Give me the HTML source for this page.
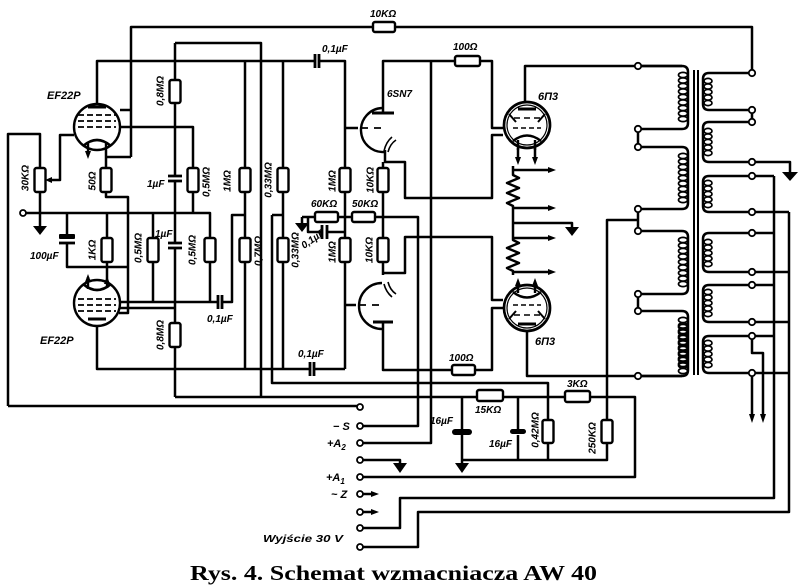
<!DOCTYPE html>
<html><head><meta charset="utf-8"><style>
html,body{margin:0;padding:0;background:#fff;}
svg{display:block}
text{font-family:"Liberation Sans",sans-serif;font-style:italic;font-weight:bold;font-size:10px;fill:#000;stroke:none}
.cap{font-family:"Liberation Serif",serif;font-style:normal;font-weight:bold;font-size:21px}
.lb{font-size:11px}
</style></head><body>
<svg width="800" height="586" viewBox="0 0 800 586" xmlns="http://www.w3.org/2000/svg">
<rect width="800" height="586" fill="#fff"/>
<g fill="none" stroke="#000" stroke-width="2.5" stroke-linejoin="round">
<path d="M131,157 V27 H752 V73"/>
<path d="M175,43 H261 V397"/>
<path d="M175,43 V176 M175,181 V243 M175,248 V397"/>
<path d="M97,104 V61 H315 M319,61 H345 V369"/>
<path d="M97,326 V369 H310 M314,369 H345"/>
<path d="M245,61 V369 M283,61 V369"/>
<path d="M272,215 H283 M272,215 V383 H548 V460"/>
<path d="M462,397 V429 M462,435 V464 M518,397 V429 M518,435 V460"/>
<path d="M462,460 H607 V220 H638"/>
<path d="M175,397 H635 V477 H363"/>
<path d="M8,406 H357 M8,406 V134 H40 V227"/>
<path d="M74,135 H60 V180 H50"/>
<path d="M106,150 V197 H128 V313 H119 M131,157 H106"/>
<path d="M120,110 H131 M120,127 H193 V213"/>
<path d="M26,213 H210 V302 M67,213 V236 M67,243 V267 H128 M107,213 V280 M153,213 V302"/>
<path d="M120,302 H218 M222,302 H232 V215 H245 M120,308 H175"/>
<path d="M345,128 H358 M345,305 H356"/>
<path d="M383,113 V61 H455 M480,61 H492 V128 H503"/>
<path d="M385,150 V162 H405 V198 H492 V135 H503 M383,162 V275"/>
<path d="M383,273 H405 V237 H492 V300 H503"/>
<path d="M383,322 V370 H452 M475,370 H492 V308 H503"/>
<path d="M302,217 H418 V426 H363 M302,217 V223 M308,217 V232 H322 M327,232 H345"/>
<path d="M431,61 V443 H363"/>
<path d="M363,460 H400 V464"/>
<path d="M525,104 V66 H682"/>
<path d="M527,331 V376 H682"/>
<path d="M518,148 V160 M535,148 V160"/>
<path d="M518,283 V294 M535,283 V294"/>
<path d="M513,166 V175 L519,178 L507,183 L519,188 L507,193 L519,198 L507,203 L513,206 V240 L519,243 L507,248 L519,253 L507,258 L519,263 L507,268 L513,271 V275"/>
<path d="M513,170 H548 M513,208 H548 M513,223 H572 V227 M513,238 H548 M513,272 H548"/>
<path d="M638,66 H682 Q688,66 688,72 V123 Q688,129 682,129 H638 V147 H682 Q688,147 688,153 V203 Q688,209 682,209 H638 V231 H682 Q688,231 688,237 V288 Q688,294 682,294 H638 V311 H682 Q688,311 688,317 V370 Q688,376 682,376 H638"/>
<path d="M694,70 V375 M698,70 V375" stroke-width="2"/>
<path d="M752,73 H709 Q703,73 703,79 V104 Q703,110 709,110 H752 V122 H709 Q703,122 703,128 V156 Q703,162 709,162 H790 V172"/>
<path d="M774,176 H709 Q703,176 703,182 V206 Q703,212 709,212 H789"/>
<path d="M774,233 H709 Q703,233 703,239 V266 Q703,272 709,272 H789"/>
<path d="M774,285 H709 Q703,285 703,291 V316 Q703,322 709,322 H789"/>
<path d="M774,336 H709 Q703,336 703,342 V367 Q703,373 709,373 H789"/>
<path d="M752,336 V353 H763 V416 M752,373 V416"/>
<path d="M774,176 V498 H400 V528 H363 M789,212 V512 H418 V547 H363"/>
<path d="M363,494 H372 M363,512 H372"/>
</g>
<g fill="none" stroke="#000" stroke-width="1.7">
<g id="pc1">
<ellipse cx="683" cy="75" rx="4.5" ry="2.6"/><ellipse cx="683" cy="80.5" rx="4.5" ry="2.6"/><ellipse cx="683" cy="86" rx="4.5" ry="2.6"/><ellipse cx="683" cy="91.5" rx="4.5" ry="2.6"/><ellipse cx="683" cy="97" rx="4.5" ry="2.6"/><ellipse cx="683" cy="102.5" rx="4.5" ry="2.6"/><ellipse cx="683" cy="108" rx="4.5" ry="2.6"/><ellipse cx="683" cy="113.5" rx="4.5" ry="2.6"/><ellipse cx="683" cy="119" rx="4.5" ry="2.6"/>
</g>
<use href="#pc1" transform="translate(0,81)"/>
<use href="#pc1" transform="translate(0,165)"/>
<use href="#pc1" transform="translate(0,245)"/>
<use href="#pc1" transform="translate(0,252)"/>
<g id="sc1">
<ellipse cx="708" cy="81" rx="4" ry="2.6"/><ellipse cx="708" cy="86.5" rx="4" ry="2.6"/><ellipse cx="708" cy="92" rx="4" ry="2.6"/><ellipse cx="708" cy="97.5" rx="4" ry="2.6"/><ellipse cx="708" cy="103" rx="4" ry="2.6"/>
</g>
<use href="#sc1" transform="translate(0,50)"/>
<use href="#sc1" transform="translate(0,102)"/>
<use href="#sc1" transform="translate(0,161)"/>
<use href="#sc1" transform="translate(0,211)"/>
<use href="#sc1" transform="translate(0,262)"/>
</g>
<g fill="none" stroke="#000" stroke-width="2.4">
<circle cx="97" cy="127" r="23" fill="#fff"/>
<path d="M88,107 H106" stroke-width="3"/>
<path d="M78,115 H116 M78,121 H116 M78,127 H116" stroke-dasharray="6,3" stroke-width="1.8"/>
<path d="M83,146 Q97,134 111,146" stroke-width="2.6"/>
<path d="M88,142 V154 M106,142 V150"/>
<circle cx="97" cy="303" r="23" fill="#fff"/>
<path d="M88,319 H106" stroke-width="3"/>
<path d="M78,299 H116 M78,305 H116 M78,311 H116" stroke-dasharray="6,3" stroke-width="1.8"/>
<path d="M83,284 Q97,296 111,284" stroke-width="2.6"/>
<path d="M88,277 V289 M107,280 V288"/>
<path d="M382,108 A22,22 0 0 0 384,152"/>
<path d="M372,113 H394" stroke-width="3"/>
<path d="M361,128 H368 M374,128 H381" stroke-width="1.8"/>
<path d="M384,151 Q386,142 392,137 M388,152 Q390,144 396,140" stroke-width="1.6"/>
<path d="M382,283 A23,23 0 0 0 382,329"/>
<path d="M373,322 H393" stroke-width="3"/>
<path d="M359,305 H366 M372,305 H379" stroke-width="1.8"/>
<path d="M384,284 Q386,292 392,297 M388,282 Q390,290 396,294" stroke-width="1.6"/>
<circle cx="527" cy="125" r="23" fill="#fff" stroke-width="2.7"/>
<circle cx="527" cy="125" r="20" stroke-width="1.2"/>
<path d="M518,109 H536" stroke-width="3"/>
<path d="M514,118 H520 M524,118 H530 M534,118 H540" stroke-width="1.6"/>
<path d="M509,114 L516,122 M545,114 L538,122" stroke-width="2"/>
<path d="M513,128 H541" stroke-dasharray="5,3" stroke-width="1.6"/>
<path d="M513,141 Q527,130 541,141" stroke-width="2.4"/>
<path d="M518,140 V150 M535,140 V150"/>
<circle cx="527" cy="308" r="23" fill="#fff" stroke-width="2.7"/>
<circle cx="527" cy="308" r="20" stroke-width="1.2"/>
<path d="M518,324 H536" stroke-width="3"/>
<path d="M514,315 H520 M524,315 H530 M534,315 H540" stroke-width="1.6"/>
<path d="M509,319 L516,311 M545,319 L538,311" stroke-width="2"/>
<path d="M513,305 H541" stroke-dasharray="5,3" stroke-width="1.6"/>
<path d="M513,292 Q527,303 541,292" stroke-width="2.4"/>
<path d="M518,293 V287 M535,293 V287"/>
</g>
<g fill="#fff" stroke="#000" stroke-width="2.4">
<rect x="373" y="22" width="22" height="10" rx="2"/>
<rect x="455" y="56" width="25" height="10" rx="2"/>
<rect x="169.5" y="80" width="11" height="23" rx="2"/>
<rect x="34.5" y="168" width="11" height="24" rx="2"/>
<rect x="100.5" y="168" width="11" height="24" rx="2"/>
<rect x="187.5" y="168" width="11" height="24" rx="2"/>
<rect x="239.5" y="168" width="11" height="24" rx="2"/>
<rect x="277.5" y="168" width="11" height="24" rx="2"/>
<rect x="339.5" y="168" width="11" height="24" rx="2"/>
<rect x="377.5" y="168" width="11" height="24" rx="2"/>
<rect x="315" y="212" width="23" height="10" rx="2"/>
<rect x="352" y="212" width="23" height="10" rx="2"/>
<rect x="101.5" y="238" width="11" height="24" rx="2"/>
<rect x="147.5" y="238" width="11" height="24" rx="2"/>
<rect x="204.5" y="238" width="11" height="24" rx="2"/>
<rect x="239.5" y="238" width="11" height="24" rx="2"/>
<rect x="277.5" y="238" width="11" height="24" rx="2"/>
<rect x="339.5" y="238" width="11" height="24" rx="2"/>
<rect x="377.5" y="238" width="11" height="24" rx="2"/>
<rect x="169.5" y="323" width="11" height="24" rx="2"/>
<rect x="452" y="365" width="23" height="10" rx="2"/>
<rect x="477" y="390" width="26" height="11" rx="2"/>
<rect x="565" y="391" width="25" height="11" rx="2"/>
<rect x="542.5" y="420" width="11" height="23" rx="2"/>
<rect x="601.5" y="420" width="11" height="23" rx="2"/>
</g>
<g stroke="#000" stroke-width="2.8" fill="none">
<path d="M315,54 V68 M319,54 V68"/>
<path d="M310,362 V376 M314,362 V376"/>
<path d="M218,295 V309 M222,295 V309"/>
<path d="M322,225 V239 M327,225 V239"/>
<path d="M168,176 H182 M168,181 H182"/>
<path d="M168,243 H182 M168,248 H182"/>
<path d="M59,243 H75"/>
</g>
<g fill="#000" stroke="none">
<rect x="59" y="234" width="16" height="5" rx="1"/>
<rect x="452" y="429" width="20" height="6" rx="3"/>
<rect x="510" y="429" width="16" height="5" rx="2.5"/>
<path d="M33,226 H47 L40,235 Z"/>
<path d="M295,223 H309 L302,232 Z"/>
<path d="M393,463 H407 L400,473 Z"/>
<path d="M455,463 H469 L462,473 Z"/>
<path d="M565,227 H579 L572,236 Z"/>
<path d="M782,172 H798 L790,181 Z"/>
<path d="M548,167 L556,170 L548,173 Z"/>
<path d="M548,205 L556,208 L548,211 Z"/>
<path d="M548,235 L556,238 L548,241 Z"/>
<path d="M548,269 L556,272 L548,275 Z"/>
<path d="M515,157 L518,165 L521,157 Z"/>
<path d="M532,157 L535,165 L538,157 Z"/>
<path d="M515,286 L518,278 L521,286 Z"/>
<path d="M532,286 L535,278 L538,286 Z"/>
<path d="M85,151 L88,159 L91,151 Z"/>
<path d="M85,282 L88,274 L91,282 Z"/>
<path d="M104,284 L107,276 L110,284 Z"/>
<path d="M749,414 L752,423 L755,414 Z"/>
<path d="M760,414 L763,423 L766,414 Z"/>
<path d="M371,491 L379,494 L371,497 Z"/>
<path d="M371,509 L379,512 L371,515 Z"/>
<path d="M52,177 L45,180 L52,183 Z"/>
</g>
<g fill="#fff" stroke="#000" stroke-width="1.8">
<circle cx="23" cy="213" r="3"/>
<circle cx="360" cy="407" r="3"/><circle cx="360" cy="426" r="3"/><circle cx="360" cy="443" r="3"/><circle cx="360" cy="460" r="3"/><circle cx="360" cy="477" r="3"/><circle cx="360" cy="494" r="3"/><circle cx="360" cy="512" r="3"/><circle cx="360" cy="528" r="3"/><circle cx="360" cy="547" r="3"/>
<circle cx="638" cy="66" r="3.2"/><circle cx="638" cy="129" r="3.2"/><circle cx="638" cy="147" r="3.2"/><circle cx="638" cy="209" r="3.2"/><circle cx="638" cy="231" r="3.2"/><circle cx="638" cy="294" r="3.2"/><circle cx="638" cy="311" r="3.2"/><circle cx="638" cy="376" r="3.2"/>
<circle cx="752" cy="73" r="3.2"/><circle cx="752" cy="110" r="3.2"/><circle cx="752" cy="122" r="3.2"/><circle cx="752" cy="162" r="3.2"/><circle cx="752" cy="176" r="3.2"/><circle cx="752" cy="212" r="3.2"/><circle cx="752" cy="233" r="3.2"/><circle cx="752" cy="272" r="3.2"/><circle cx="752" cy="285" r="3.2"/><circle cx="752" cy="322" r="3.2"/><circle cx="752" cy="336" r="3.2"/><circle cx="752" cy="373" r="3.2"/>
</g>
<text x="370" y="17">10KΩ</text>
<text x="322" y="52">0,1µF</text>
<text x="453" y="50">100Ω</text>
<text x="47" y="99" class="lb">EF22P</text>
<text x="387" y="97">6SN7</text>
<text x="538" y="100" class="lb">6П3</text>
<text x="535" y="345" class="lb">6П3</text>
<text x="40" y="344" class="lb">EF22P</text>
<text x="449" y="361">100Ω</text>
<text x="475" y="413">15KΩ</text>
<text x="567" y="387">3KΩ</text>
<text x="430" y="424">16µF</text>
<text x="489" y="447">16µF</text>
<text x="147" y="187">1µF</text>
<text x="155" y="237">1µF</text>
<text x="311" y="207">60KΩ</text>
<text x="352" y="207">50KΩ</text>
<text x="30" y="259">100µF</text>
<text x="207" y="322">0,1µF</text>
<text x="298" y="357">0,1µF</text>
<text x="300" y="244" transform="rotate(-35 310 240)">0,1µF</text>
<text transform="translate(160,91) rotate(-90)" text-anchor="middle" dy="3.5">0,8MΩ</text>
<text transform="translate(25,178) rotate(-90)" text-anchor="middle" dy="3.5">30KΩ</text>
<text transform="translate(92,181) rotate(-90)" text-anchor="middle" dy="3.5">50Ω</text>
<text transform="translate(206,182) rotate(-90)" text-anchor="middle" dy="3.5">0,5MΩ</text>
<text transform="translate(227,181) rotate(-90)" text-anchor="middle" dy="3.5">1MΩ</text>
<text transform="translate(268,180) rotate(-90)" text-anchor="middle" dy="3.5">0,33MΩ</text>
<text transform="translate(332,181) rotate(-90)" text-anchor="middle" dy="3.5">1MΩ</text>
<text transform="translate(370,180) rotate(-90)" text-anchor="middle" dy="3.5">10KΩ</text>
<text transform="translate(92,250) rotate(-90)" text-anchor="middle" dy="3.5">1KΩ</text>
<text transform="translate(138,248) rotate(-90)" text-anchor="middle" dy="3.5">0,5MΩ</text>
<text transform="translate(192,250) rotate(-90)" text-anchor="middle" dy="3.5">0,5MΩ</text>
<text transform="translate(258,251) rotate(-90)" text-anchor="middle" dy="3.5">0,7MΩ</text>
<text transform="translate(295,250) rotate(-90)" text-anchor="middle" dy="3.5">0,33MΩ</text>
<text transform="translate(332,252) rotate(-90)" text-anchor="middle" dy="3.5">1MΩ</text>
<text transform="translate(369,250) rotate(-90)" text-anchor="middle" dy="3.5">10KΩ</text>
<text transform="translate(160,335) rotate(-90)" text-anchor="middle" dy="3.5">0,8MΩ</text>
<text transform="translate(535,430) rotate(-90)" text-anchor="middle" dy="3.5">0,42MΩ</text>
<text transform="translate(592,438) rotate(-90)" text-anchor="middle" dy="3.5">250KΩ</text>
<text x="333" y="430" class="lb">− S</text>
<text x="327" y="447" class="lb">+A<tspan font-size="8" dy="3">2</tspan></text>
<text x="326" y="481" class="lb">+A<tspan font-size="8" dy="3">1</tspan></text>
<text x="331" y="498" class="lb">~ Z</text>
<text x="263" y="542" textLength="80" lengthAdjust="spacingAndGlyphs">Wyjście  30 V</text>
<text x="190" y="580" class="cap" textLength="407" lengthAdjust="spacingAndGlyphs">Rys.  4.  Schemat  wzmacniacza  AW  40</text>
</svg>
</body></html>
